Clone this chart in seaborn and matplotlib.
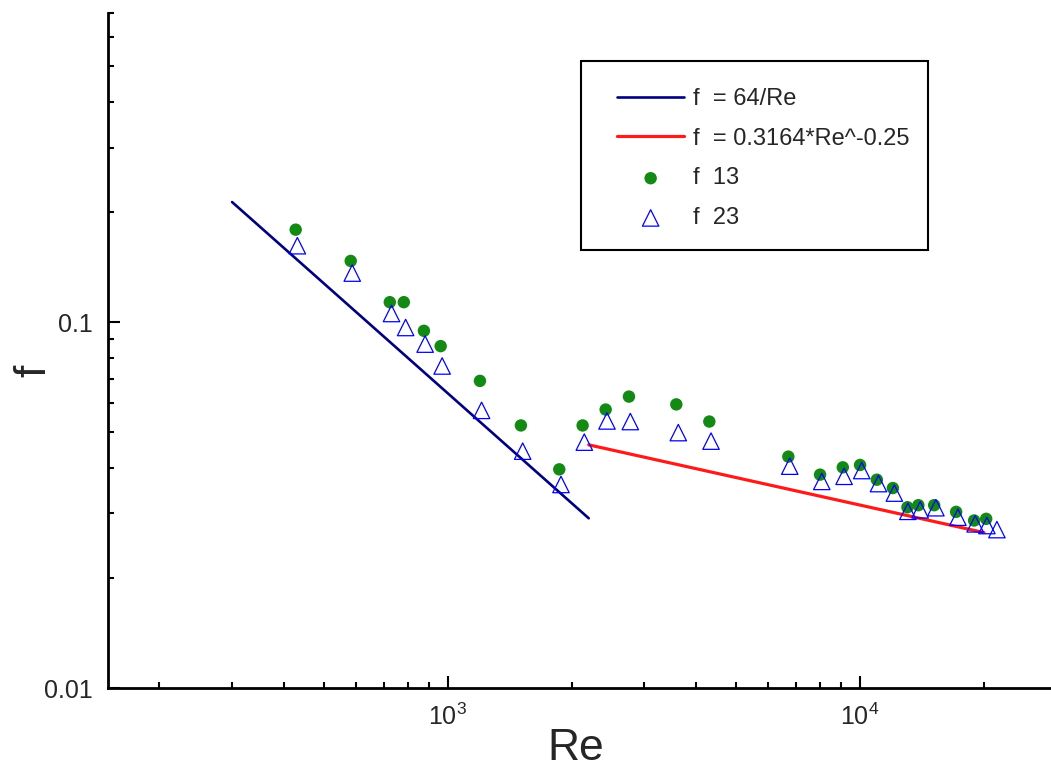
import pandas as pd
import matplotlib
matplotlib.use("Agg")
import matplotlib.pyplot as plt
import matplotlib.ticker as mticker
from matplotlib.patches import Rectangle
import seaborn as sns

# -----------------------------
# DATA
# -----------------------------
re_laminar = [300, 2200]
f_laminar = [0.213, 0.0291]          # f = 64/Re

re_turb = [2200, 20000]
f_turb = [0.0462, 0.0266]            # f = 0.3164*Re^-0.25

re_13 = [428, 582, 724, 783, 876, 962, 1198, 1506, 1866, 2126, 2418, 2754, 3588,
         4315, 6709, 8010, 9094, 10016, 11000, 12030, 13050, 13870, 15150, 17130,
         18940, 20260]
f_13 = [0.179, 0.147, 0.1134, 0.1134, 0.0947, 0.086, 0.0691, 0.0522, 0.0396, 0.0522,
        0.0577, 0.0626, 0.0596, 0.0535, 0.0429, 0.0383, 0.0401, 0.0407, 0.0371,
        0.0352, 0.0312, 0.0316, 0.0316, 0.0303, 0.0287, 0.029]

re_23 = [432, 587, 731, 791, 882, 970, 1209, 1521, 1884, 2146, 2436, 2775, 3628,
         4356, 6762, 8088, 9161, 10110, 11100, 12130, 13080, 14010, 15300, 17300,
         19050, 20340, 21510]
f_23 = [0.1618, 0.1362, 0.1056, 0.0967, 0.0871, 0.0759, 0.0574, 0.0444, 0.036, 0.047,
        0.0537, 0.0535, 0.0499, 0.0473, 0.0404, 0.0367, 0.0379, 0.0393, 0.0362,
        0.0341, 0.0304, 0.0307, 0.0311, 0.0293, 0.0281, 0.0278, 0.0271]

lam = pd.DataFrame({"Re": re_laminar, "f": f_laminar})
turb = pd.DataFrame({"Re": re_turb, "f": f_turb})
d13 = pd.DataFrame({"Re": re_13, "f": f_13})
d23 = pd.DataFrame({"Re": re_23, "f": f_23})

# -----------------------------
# STYLE
# -----------------------------
sns.set_theme(style="white")
plt.rcParams["font.family"] = ["Liberation Sans", "DejaVu Sans"]
plt.rcParams["mathtext.fontset"] = "custom"
plt.rcParams["mathtext.rm"] = "Liberation Sans"

W, H = 1051, 773
fig = plt.figure(figsize=(W / 100, H / 100), dpi=100)
ax = fig.add_axes([108 / W, (H - 688) / H, (1051 - 108) / W, (688 - 13) / H])

sns.lineplot(data=lam, x="Re", y="f", ax=ax, color="#000080", lw=1.9,
             label="f  = 64/Re")
sns.lineplot(data=turb, x="Re", y="f", ax=ax, color="#ff1a1a", lw=2.3,
             label="f  = 0.3164*Re^-0.25")
sns.scatterplot(data=d13, x="Re", y="f", ax=ax, color="#138a13", marker="o",
                s=80, edgecolor="none", label="f  13", zorder=3)
sns.scatterplot(data=d23, x="Re", y="f", ax=ax, marker="^", s=140,
                facecolors="none", edgecolor="#0000ff", linewidth=0.9,
                label="f  23", zorder=4)

ax.set_xscale("log")
ax.set_yscale("log")
ax.set_xlim(150, 29100)
ax.set_ylim(0.01, 0.7)

# axes / ticks
for side in ["top", "right"]:
    ax.spines[side].set_visible(False)
for side in ["left", "bottom"]:
    ax.spines[side].set_color("black")
    ax.spines[side].set_linewidth(2)

ax.xaxis.set_major_locator(mticker.LogLocator(base=10))
ax.xaxis.set_minor_locator(mticker.LogLocator(base=10, subs=range(2, 10)))
ax.xaxis.set_major_formatter(mticker.LogFormatterSciNotation())
ax.xaxis.set_minor_formatter(mticker.NullFormatter())

ax.yaxis.set_major_locator(mticker.FixedLocator([0.01, 0.1]))
ax.yaxis.set_minor_locator(mticker.LogLocator(base=10, subs=range(2, 10)))
ax.yaxis.set_major_formatter(mticker.FixedFormatter(["0.01", "0.1"]))
ax.yaxis.set_minor_formatter(mticker.NullFormatter())

ax.tick_params(which="major", direction="in", length=8.5, width=1.5,
               color="black", labelsize=18, pad=11, left=True, bottom=True)
ax.tick_params(which="minor", direction="in", length=4.3, width=1.5,
               color="black", left=True, bottom=True)

ax.set_xlabel("Re", fontsize=32)
ax.set_ylabel("f", fontsize=32)
ax.xaxis.set_label_coords((576 - 108) / 943, -0.060)
ax.yaxis.set_label_coords((54 - 108) / 943, (688 - 371) / 675)

# legend (frame drawn separately so the inner padding can match)
leg = ax.legend(loc="upper left", bbox_to_anchor=(617 / W, 1 - 88 / H),
                bbox_transform=fig.transFigure, fontsize=17, frameon=False,
                borderpad=0, handlelength=2.85, handletextpad=0.35,
                labelspacing=0.75, borderaxespad=0)
fig.add_artist(Rectangle((581 / W, 1 - 250 / H), (928 - 581) / W, (250 - 61) / H,
                         transform=fig.transFigure, fill=False,
                         edgecolor="black", linewidth=1.5, zorder=5))

fig.savefig("out.png", dpi=100)
